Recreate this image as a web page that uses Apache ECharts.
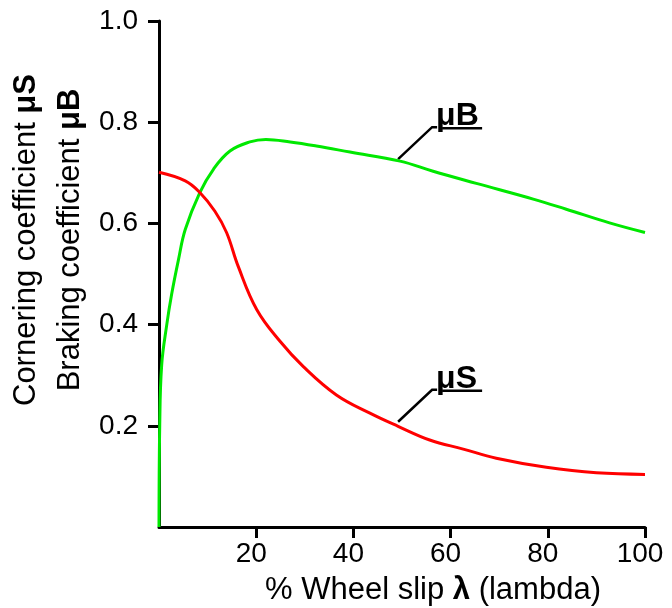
<!DOCTYPE html>
<html>
<head>
<meta charset="utf-8">
<script src="https://cdn.jsdelivr.net/npm/echarts@6/dist/echarts.min.js"></script>
<style>
  html, body { margin: 0; padding: 0; background: #fff; }
  #chart { width: 672px; height: 608px; }
</style>
</head>
<body>
<div id="chart"></div>
<script>
// wheel slip (%) vs coefficient
let brakingPts = [
    [0, 0], [0.15, 0.2], [0.55, 0.32], [1.6, 0.40], [2.6, 0.46], [4, 0.528],
    [5.4, 0.588], [8.4, 0.661], [11.2, 0.707], [14.6, 0.743], [18.7, 0.761],
    [22, 0.766], [27, 0.761], [32.4, 0.753], [39.3, 0.741], [49.6, 0.723],
    [56.4, 0.703], [65.3, 0.679], [77, 0.648], [83.8, 0.628], [92.7, 0.601],
    [100, 0.582]
];
let corneringPts = [
    [0, 0.701], [5.4, 0.684], [8.4, 0.661], [11.5, 0.624], [13.9, 0.582],
    [16.3, 0.515], [20.1, 0.430], [24.9, 0.367], [29.7, 0.317], [36.5, 0.261],
    [43.4, 0.225], [49.2, 0.199], [55.7, 0.172], [62.6, 0.154], [69.4, 0.136],
    [79.7, 0.118], [90, 0.107], [100, 0.104]
];
let xTicks = [20, 40, 60, 80, 100];
let yTicks = [0.2, 0.4, 0.6, 0.8, 1.0];

const FONT = '"Liberation Sans", Arial, Helvetica, sans-serif';

var myChart = echarts.init(document.getElementById('chart'));

let option = {
    animation: false,
    grid: {
        left: 159,
        right: 27,
        top: 21,
        bottom: 81
    },
    xAxis: {
        type: 'value',
        min: 0,
        max: 100,
        interval: 20,
        splitLine: { show: false },
        axisLine: { lineStyle: { color: '#000', width: 3 } },
        axisTick: { length: 11, lineStyle: { color: '#000', width: 3 }, customValues: xTicks },
        axisLabel: {
            customValues: xTicks,
            color: '#000',
            fontSize: 28,
            fontFamily: FONT,
            margin: 13,
            padding: [0, 10, 0, 0]
        }
    },
    yAxis: {
        type: 'value',
        min: 0,
        max: 1,
        interval: 0.2,
        splitLine: { show: false },
        axisLine: { lineStyle: { color: '#000', width: 3 } },
        axisTick: { length: 11, lineStyle: { color: '#000', width: 3 }, customValues: yTicks },
        axisLabel: {
            customValues: yTicks,
            color: '#000',
            fontSize: 28,
            fontFamily: FONT,
            margin: 21,
            formatter: function (v) { return v.toFixed(1); }
        }
    },
    series: [
        {
            name: 'μB',
            type: 'line',
            data: brakingPts,
            showSymbol: false,
            smooth: 0.4,
            z: 5,
            lineStyle: { color: '#00e800', width: 3 }
        },
        {
            name: 'μS',
            type: 'line',
            data: corneringPts,
            showSymbol: false,
            smooth: 0.4,
            z: 5,
            lineStyle: { color: '#ff0000', width: 3 }
        }
    ]
};

myChart.setOption(option);

// labels with leader lines, anchored on the curves
function callout(anchor, label) {
    let p = myChart.convertToPixel({ gridIndex: 0 }, anchor);
    let q = [p[0] + 34, p[1] - 32];
    return [
        {
            type: 'polyline',
            shape: { points: [p, q, [q[0] + 5, q[1]]] },
            style: { stroke: '#000', lineWidth: 2.5, fill: null }
        },
        {
            type: 'text',
            style: {
                x: q[0] + 4, y: q[1] - 11,
                text: label,
                font: 'bold 32px ' + FONT,
                fill: '#000',
                verticalAlign: 'middle'
            }
        },
        {
            type: 'line',
            shape: { x1: q[0] + 10, y1: q[1] + 1, x2: q[0] + 50, y2: q[1] + 1 },
            style: { stroke: '#000', lineWidth: 2.5 }
        }
    ];
}

let titleRich = {
    n: { fontSize: 31, fontFamily: FONT, fill: '#000' },
    b: { fontSize: 31, fontFamily: FONT, fontWeight: 'bold', fill: '#000' }
};

let extra = [].concat(
    callout([49.2, 0.727], 'μB'),
    callout([49.2, 0.208], 'μS'),
    [
        {
            type: 'text',
            x: 26, y: 240,
            rotation: Math.PI / 2,
            style: {
                text: '{n|Cornering coefficient }{b|μS}',
                rich: titleRich,
                align: 'center',
                verticalAlign: 'middle'
            }
        },
        {
            type: 'text',
            x: 70, y: 240,
            rotation: Math.PI / 2,
            style: {
                text: '{n|Braking coefficient }{b|μB}',
                rich: titleRich,
                align: 'center',
                verticalAlign: 'middle'
            }
        },
        {
            type: 'text',
            x: 433, y: 590,
            style: {
                text: '{n|% Wheel slip }{b|λ}{n| (lambda)}',
                rich: titleRich,
                align: 'center',
                verticalAlign: 'middle'
            }
        }
    ]
);

myChart.setOption({ graphic: extra });
</script>
</body>
</html>
